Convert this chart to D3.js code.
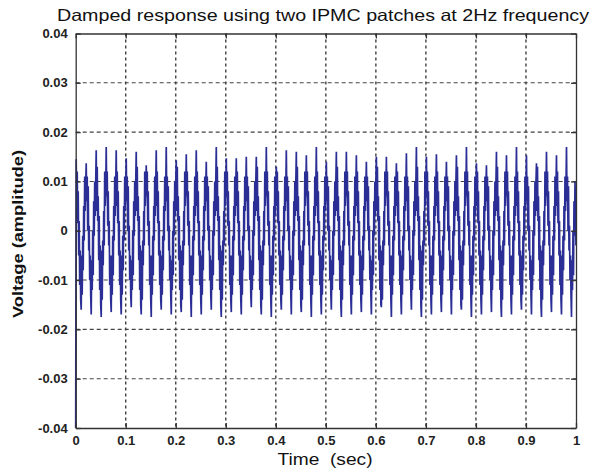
<!DOCTYPE html>
<html>
<head>
<meta charset="utf-8">
<script src="https://cdn.jsdelivr.net/npm/d3@7"></script>
<style>
  html, body { margin: 0; padding: 0; background: #fff; }
  svg { display: block; }
</style>
</head>
<body>
<svg id="chart" width="592" height="473"></svg>
<script>
// ---- data ----
const titleText = "Damped response using two IPMC patches at 2Hz frequency";
const xLabelText = "Time\u00A0\u00A0(sec)";
const yLabelText = "Voltage (amplitude)";
const xTicks = [0, 0.1, 0.2, 0.3, 0.4, 0.5, 0.6, 0.7, 0.8, 0.9, 1];
const xTickLabels = ["0", "0.1", "0.2", "0.3", "0.4", "0.5", "0.6", "0.7", "0.8", "0.9", "1"];
const yTicks = [-0.04, -0.03, -0.02, -0.01, 0, 0.01, 0.02, 0.03, 0.04];
const yTickLabels = ["-0.04", "-0.03", "-0.02", "-0.01", "0", "0.01", "0.02", "0.03", "0.04"];
const xDomain = [0, 1];
const yDomain = [-0.04, 0.04];
const sampleInterval = 0.001;   // seconds between samples
const voltageUnit = 0.001;      // values below are in thousandths of a volt
const voltage = [
  -40,
  14.5, 5, 12, 1.5, 8, -5, 2, -11, -4, -14, -16, -5, -13, -1, -8, 5, -2, 11, 4, 9,
  13.7, 6, 11, 0, 9, -4, 1, -10, -5, -13, -17, -6, -12, 0, -9, 6, -1, 10, 3, 10,
  16.3, 4, 13, 2, 7, -6, 3, -12, -3, -15, -17.5, -4, -14, -2, -7, 4, -3, 12, 5, 8,
  17, 7, 12, 1, 8, -3, 2, -11, -5, -14, -16.5, -5, -13, -1, -9, 5, -2, 11, 3, 9,
  16.3, 5, 12, 1.5, 8, -5, 2, -11, -4, -14, -17, -5, -13, -1, -8, 5, -2, 11, 4, 9,
  14.7, 6, 11, 0, 9, -4, 1, -10, -5, -13, -15.5, -6, -12, 0, -9, 6, -1, 10, 3, 10,
  16, 4, 13, 2, 7, -6, 3, -12, -3, -15, -17, -4, -14, -2, -7, 4, -3, 12, 5, 8,
  13.3, 7, 12, 1, 8, -3, 2, -11, -5, -14, -17.5, -5, -13, -1, -9, 5, -2, 11, 3, 9,
  16.3, 5, 12, 1.5, 8, -5, 2, -11, -4, -14, -16, -5, -13, -1, -8, 5, -2, 11, 4, 9,
  17, 6, 11, 0, 9, -4, 1, -10, -5, -13, -17, -6, -12, 0, -9, 6, -1, 10, 3, 10,
  14.3, 4, 13, 2, 7, -6, 3, -12, -3, -15, -16.5, -4, -14, -2, -7, 4, -3, 12, 5, 8,
  15.5, 7, 12, 1, 8, -3, 2, -11, -5, -14, -17.5, -5, -13, -1, -9, 5, -2, 11, 3, 9,
  16.3, 5, 12, 1.5, 8, -5, 2, -11, -4, -14, -17, -5, -13, -1, -8, 5, -2, 11, 4, 9,
  14, 6, 11, 0, 9, -4, 1, -10, -5, -13, -16, -6, -12, 0, -9, 6, -1, 10, 3, 10,
  17, 4, 13, 2, 7, -6, 3, -12, -3, -15, -17.5, -4, -14, -2, -7, 4, -3, 12, 5, 8,
  14.7, 7, 12, 1, 8, -3, 2, -11, -5, -14, -16.5, -5, -13, -1, -9, 5, -2, 11, 3, 9,
  14.7, 5, 12, 1.5, 8, -5, 2, -11, -4, -14, -17, -5, -13, -1, -8, 5, -2, 11, 4, 9,
  15, 6, 11, 0, 9, -4, 1, -10, -5, -13, -15.5, -6, -12, 0, -9, 6, -1, 10, 3, 10,
  15, 4, 13, 2, 7, -6, 3, -12, -3, -15, -17, -4, -14, -2, -7, 4, -3, 12, 5, 8,
  17, 7, 12, 1, 8, -3, 2, -11, -5, -14, -17.5, -5, -13, -1, -9, 5, -2, 11, 3, 9,
  13, 5, 12, 1.5, 8, -5, 2, -11, -4, -14, -16, -5, -13, -1, -8, 5, -2, 11, 4, 9,
  16.3, 6, 11, 0, 9, -4, 1, -10, -5, -13, -17, -6, -12, 0, -9, 6, -1, 10, 3, 10,
  16, 4, 13, 2, 7, -6, 3, -12, -3, -15, -16.5, -4, -14, -2, -7, 4, -3, 12, 5, 8,
  15.3, 7, 12, 1, 8, -3, 2, -11, -5, -14, -17.5, -5, -13, -1, -9, 5, -2, 11, 3, 9,
  17, 5, 12, 1.5, 8, -5, 2, -11, -4, -14, -17, -5, -13, -1, -8, 5, -2, 11, 4, 9,
  14, 6, 11, 0, 9, -4, 1, -10, -5, -13, -16, -6, -12, 0, -9, 6, -1, 10, 3, 10,
  16, 4, 13, 2, 7, -6, 3, -12, -3, -15, -17.5, -4, -14, -2, -7, 4, -3, 12, 5, 8,
  16, 7, 12, 1, 8, -3, 2, -11, -5, -14, -17, -5, -13, -1, -9, 5, -2, 11, 3, 9,
  15.3, 5, 12, 1.5, 8, -5, 2, -11, -4, -14, -16.5, -5, -13, -1, -8, 5, -2, 11, 4, 9,
  14, 6, 11, 0, 9, -4, 1, -10, -5, -13, -17, -6, -12, 0, -9, 6, -1, 10, 3, 10,
  15, 4, 13, 2, 7, -6, 3, -12, -3, -15, -15.5, -4, -14, -2, -7, 4, -3, 12, 5, 8,
  15, 7, 12, 1, 8, -3, 2, -11, -5, -14, -17.5, -5, -13, -1, -9, 5, -2, 11, 3, 9,
  13.7, 5, 12, 1.5, 8, -5, 2, -11, -4, -14, -17, -5, -13, -1, -8, 5, -2, 11, 4, 9,
  15.7, 6, 11, 0, 9, -4, 1, -10, -5, -13, -16, -6, -12, 0, -9, 6, -1, 10, 3, 10,
  17, 4, 13, 2, 7, -6, 3, -12, -3, -15, -17.5, -4, -14, -2, -7, 4, -3, 12, 5, 8,
  15, 7, 12, 1, 8, -3, 2, -11, -5, -14, -17, -5, -13, -1, -9, 5, -2, 11, 3, 9,
  15.5, 5, 12, 1.5, 8, -5, 2, -11, -4, -14, -16.5, -5, -13, -1, -8, 5, -2, 11, 4, 9,
  14, 6, 11, 0, 9, -4, 1, -10, -5, -13, -17, -6, -12, 0, -9, 6, -1, 10, 3, 10,
  15.3, 4, 13, 2, 7, -6, 3, -12, -3, -15, -16, -4, -14, -2, -7, 4, -3, 12, 5, 8,
  17, 7, 12, 1, 8, -3, 2, -11, -5, -14, -17.5, -5, -13, -1, -9, 5, -2, 11, 3, 9,
  13.7, 5, 12, 1.5, 8, -5, 2, -11, -4, -14, -17, -5, -13, -1, -8, 5, -2, 11, 4, 9,
  13.3, 6, 11, 0, 9, -4, 1, -10, -5, -13, -16.5, -6, -12, 0, -9, 6, -1, 10, 3, 10,
  16, 4, 13, 2, 7, -6, 3, -12, -3, -15, -17.5, -4, -14, -2, -7, 4, -3, 12, 5, 8,
  15.3, 7, 12, 1, 8, -3, 2, -11, -5, -14, -17, -5, -13, -1, -9, 5, -2, 11, 3, 9,
  17, 5, 12, 1.5, 8, -5, 2, -11, -4, -14, -16, -5, -13, -1, -8, 5, -2, 11, 4, 9,
  15.3, 6, 11, 0, 9, -4, 1, -10, -5, -13, -17, -6, -12, 0, -9, 6, -1, 10, 3, 10,
  13.7, 4, 13, 2, 7, -6, 3, -12, -3, -15, -17.5, -4, -14, -2, -7, 4, -3, 12, 5, 8,
  16, 7, 12, 1, 8, -3, 2, -11, -5, -14, -16.5, -5, -13, -1, -9, 5, -2, 11, 3, 9,
  15.3, 5, 12, 1.5, 8, -5, 2, -11, -4, -14, -17, -5, -13, -1, -8, 5, -2, 11, 4, 9,
  17, 6, 11, 0, 9, -4, 1, -10, -5, -13, -17.5, -6, -12, 0, -9, 6, -1, 10, 3, -3
];

// ---- layout ----
const W = 592, H = 473;
const margin = { left: 75.7, right: 16, top: 33.5, bottom: 45 };
const svg = d3.select("#chart");
const x = d3.scaleLinear().domain(xDomain).range([margin.left, W - margin.right]);
const y = d3.scaleLinear().domain(yDomain).range([H - margin.bottom, margin.top]);
const font = "'Liberation Sans', Arial, Helvetica, sans-serif";
const axisColor = "#333";

// grid
const grid = svg.append("g");
grid.selectAll("line.gx").data(xTicks.slice(1, -1)).join("line")
  .attr("x1", d => x(d)).attr("x2", d => x(d))
  .attr("y1", y.range()[1]).attr("y2", y.range()[0])
  .attr("stroke", "#333").attr("stroke-width", 1.3).attr("stroke-dasharray", "3,3");
grid.selectAll("line.gy").data(yTicks.slice(1, -1)).join("line")
  .attr("y1", d => y(d)).attr("y2", d => y(d))
  .attr("x1", x.range()[0]).attr("x2", x.range()[1])
  .attr("stroke", "#444").attr("stroke-width", 1.1).attr("stroke-dasharray", "4,3");

// signal
const line = d3.line()
  .x((d, i) => x(i * sampleInterval))
  .y(d => y(d * voltageUnit));
svg.append("path").datum(voltage)
  .attr("d", line)
  .attr("fill", "none")
  .attr("stroke", "#2b2f95")
  .attr("stroke-width", 1.7)
  .attr("stroke-linejoin", "miter");

// axes (ticks inward, box)
const tickLen = 5;
const xAxisB = d3.axisBottom(x).tickValues(xTicks).tickSizeInner(-tickLen).tickSizeOuter(0)
  .tickFormat((d, i) => xTickLabels[i]).tickPadding(8);
const xAxisT = d3.axisTop(x).tickValues(xTicks).tickSizeInner(-tickLen).tickSizeOuter(0).tickFormat("");
const yAxisL = d3.axisLeft(y).tickValues(yTicks).tickSizeInner(-tickLen).tickSizeOuter(0)
  .tickFormat((d, i) => yTickLabels[i]).tickPadding(8);
const yAxisR = d3.axisRight(y).tickValues(yTicks).tickSizeInner(-tickLen).tickSizeOuter(0).tickFormat("");

function style(g) {
  g.select(".domain").attr("stroke", axisColor).attr("stroke-width", 1.3);
  g.selectAll(".tick line").attr("stroke", axisColor).attr("stroke-width", 1.3);
  g.selectAll("text").attr("font-family", font).attr("font-size", 13)
    .attr("font-weight", "bold").attr("fill", "#222");
}
svg.append("g").attr("transform", `translate(0,${y.range()[0]})`).call(xAxisB).call(style);
svg.append("g").attr("transform", `translate(0,${y.range()[1]})`).call(xAxisT).call(style);
svg.append("g").attr("transform", `translate(${x.range()[0]},0)`).call(yAxisL).call(style);
svg.append("g").attr("transform", `translate(${x.range()[1]},0)`).call(yAxisR).call(style);

// title & labels
svg.append("text").attr("x", 323).attr("y", 21)
  .attr("text-anchor", "middle").attr("font-family", font).attr("font-size", 16.5)
  .attr("textLength", 532).attr("lengthAdjust", "spacingAndGlyphs")
  .attr("fill", "#111").text(titleText);
svg.append("text").attr("x", 325).attr("y", 465)
  .attr("text-anchor", "middle").attr("font-family", font).attr("font-size", 16)
  .attr("textLength", 95).attr("lengthAdjust", "spacingAndGlyphs")
  .attr("fill", "#111").text(xLabelText);
svg.append("text").attr("transform", `translate(23,234) rotate(-90)`)
  .attr("text-anchor", "middle").attr("font-family", font).attr("font-size", 15.5)
  .attr("textLength", 168).attr("lengthAdjust", "spacingAndGlyphs")
  .attr("font-weight", "bold").attr("fill", "#111").text(yLabelText);
</script>
</body>
</html>
